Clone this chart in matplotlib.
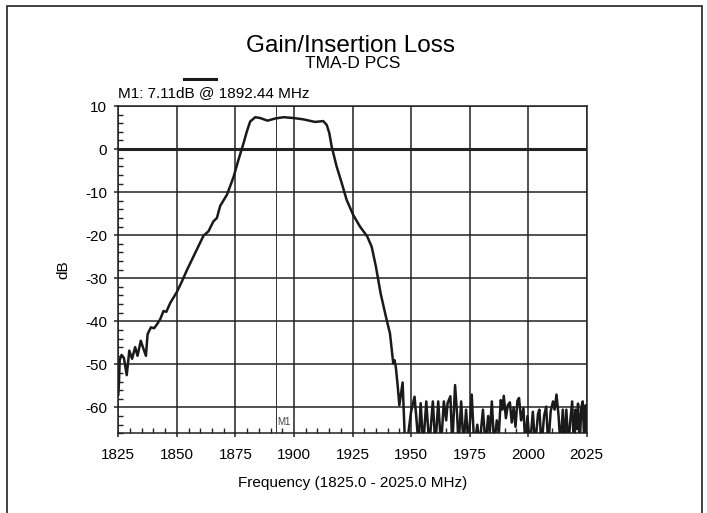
import numpy as np
import matplotlib
matplotlib.use('Agg')
import matplotlib.pyplot as plt
from matplotlib.ticker import MultipleLocator
from matplotlib.patches import Rectangle
from matplotlib.lines import Line2D

plt.rcParams['font.family'] = ['Liberation Sans', 'DejaVu Sans']
plt.rcParams['axes.unicode_minus'] = False

# trace (MHz, dB)
freq = [1825.0, 1825.3, 1825.6, 1826.4, 1827.4, 1828.6, 1829.7, 1830.9, 1832.2, 1833.2,
        1834.6, 1835.5, 1836.8, 1837.5, 1838.9, 1840.3, 1841.5, 1842.9, 1844.3, 1845.5,
        1847.2, 1850.0, 1852.2, 1854.3, 1856.8, 1859.2, 1861.4, 1863.5, 1865.6, 1867.1,
        1868.5, 1871.4, 1874.2, 1876.3, 1878.5, 1879.9, 1881.3, 1883.5, 1885.6, 1888.7,
        1892.0, 1895.6, 1899.9, 1904.0, 1909.0, 1912.5, 1914.0, 1915.1, 1916.1, 1918.2,
        1920.4, 1922.5, 1925.3, 1928.2, 1931.3, 1933.2, 1935.0, 1937.0, 1939.6, 1941.0,
        1942.4, 1942.9, 1943.5, 1944.3, 1945.0, 1946.4,
        1947.4, 1948.6, 1950.0, 1951.5, 1952.5, 1953.2, 1954.1, 1955.2, 1956.5, 1957.8,
        1959.3, 1960.4, 1961.6, 1962.8, 1964.0, 1965.0, 1965.6, 1966.8, 1967.6, 1968.8,
        1969.7, 1970.3, 1971.4, 1972.4, 1973.5, 1974.5, 1975.9, 1977.0, 1978.3, 1979.2,
        1980.7, 1981.8, 1982.9, 1983.6, 1984.5, 1985.5, 1986.6, 1987.5, 1988.3, 1989.0,
        1989.6, 1990.5, 1991.3, 1992.2, 1993.0, 1993.8, 1994.6, 1995.4, 1996.1, 1997.0,
        1998.0, 1998.8, 1999.7, 2000.8, 2002.0, 2003.0, 2004.2, 2004.8, 2005.7, 2006.8,
        2007.7, 2008.6, 2009.6, 2010.6, 2011.3, 2012.1, 2013.0, 2013.8, 2014.8, 2015.6,
        2016.3, 2017.2, 2018.0, 2018.8, 2019.5, 2020.2, 2020.8, 2021.3, 2022.0, 2022.7,
        2023.3, 2024.0, 2024.5, 2025.0]
gain = [-57.0, -54.0, -49.0, -47.8, -48.5, -52.5, -46.8, -48.7, -46.0, -48.0,
        -44.5, -46.0, -48.0, -43.0, -41.4, -41.6, -40.7, -39.5, -37.6, -37.8,
        -35.7, -33.2, -30.7, -28.1, -25.3, -22.6, -20.1, -19.1, -16.8, -16.0,
        -13.2, -10.6, -6.5, -2.5, 1.4, 4.1, 6.4, 7.4, 7.2, 6.6,
        7.1, 7.4, 7.2, 6.9, 6.3, 6.5, 5.6, 3.7, 0.6, -4.0,
        -7.9, -11.8, -15.3, -18.0, -20.3, -22.7, -27.3, -33.5, -39.7, -42.8,
        -49.8, -49.0, -50.6, -55.0, -59.5, -54.2,
        -68, -67, -61, -57.5, -64, -69, -59, -69, -58.6, -69,
        -58.6, -69, -58.6, -69, -58.6, -63, -59, -57.4, -69, -54.8,
        -62, -69, -58.6, -69, -60.5, -69, -57.0, -69, -64, -69,
        -60.5, -69, -62, -66, -58.6, -69, -63, -66, -58.3, -60.5,
        -57.3, -62.5, -59.5, -58.8, -63.5, -60, -64.5, -58.5, -57.8, -63,
        -60.2, -69, -62, -69, -61, -69, -61.5, -60.5, -69, -62,
        -59.8, -69, -61, -58.6, -60.5, -57.0, -62, -69, -60.5, -69,
        -60.5, -69, -63, -58.6, -69, -60.5, -65, -59.1, -69, -60,
        -58.6, -69, -59.5, -69]

marker_freq = 1892.44
marker_text = 'M1: 7.11dB @ 1892.44 MHz'

W, H = 707, 513
fig = plt.figure(figsize=(W / 100, H / 100), dpi=100)
ax = fig.add_axes([118.3 / W, 1 - 433.3 / H, (586.7 - 118.3) / W, (433.3 - 106) / H])

dark = '#222222'
ax.plot(freq, gain, color='#1a1a1a', lw=1.8, zorder=3)
ax.axvline(marker_freq, color='#333333', lw=0.7, zorder=2)
ax.text(marker_freq + 0.6, -63.3, 'M1', fontsize=7, color='#444444', va='center', ha='left')
ax.axhline(0, color=dark, lw=2.2, zorder=2)

ax.set_xlim(1825, 2025)
ax.set_ylim(-66, 10)
ax.xaxis.set_major_locator(MultipleLocator(25))
ax.xaxis.set_minor_locator(MultipleLocator(5))
ax.yaxis.set_major_locator(MultipleLocator(10))
ax.yaxis.set_minor_locator(MultipleLocator(2))
ax.grid(True, which='major', color=dark, lw=1.1)
ax.tick_params(which='major', direction='out', length=3, width=1.1, color=dark,
               labelsize=11, pad=5)
ax.tick_params(axis='x', which='major', pad=7.5)
ax.tick_params(which='minor', direction='in', length=3.5, width=1.0, color=dark)
for s in ax.spines.values():
    s.set_color(dark)
    s.set_linewidth(1.1)

ax.set_xlabel('Frequency (1825.0 - 2025.0 MHz)', fontsize=11, labelpad=10.5)
ax.set_ylabel('dB', fontsize=11, labelpad=11)

fig.text(351 / W, 1 - 51.5 / H, 'Gain/Insertion Loss', fontsize=17.5, ha='center', va='baseline')
fig.text(353 / W, 1 - 68.5 / H, 'TMA-D PCS', fontsize=12.5, ha='center', va='baseline')
fig.text(118 / W, 1 - 97 / H, marker_text, fontsize=11, ha='left', va='baseline')
fig.add_artist(Line2D([184 / W, 216 / W], [1 - 78.5 / H, 1 - 78.5 / H], color='#1a1a1a', lw=2.2))

# page frame
fig.add_artist(Rectangle((7 / W, -0.05), 695 / W, 1.05 - 6 / H, transform=fig.transFigure,
                         fill=False, ec='#333333', lw=1.3))

fig.savefig('out.png', dpi=100)
